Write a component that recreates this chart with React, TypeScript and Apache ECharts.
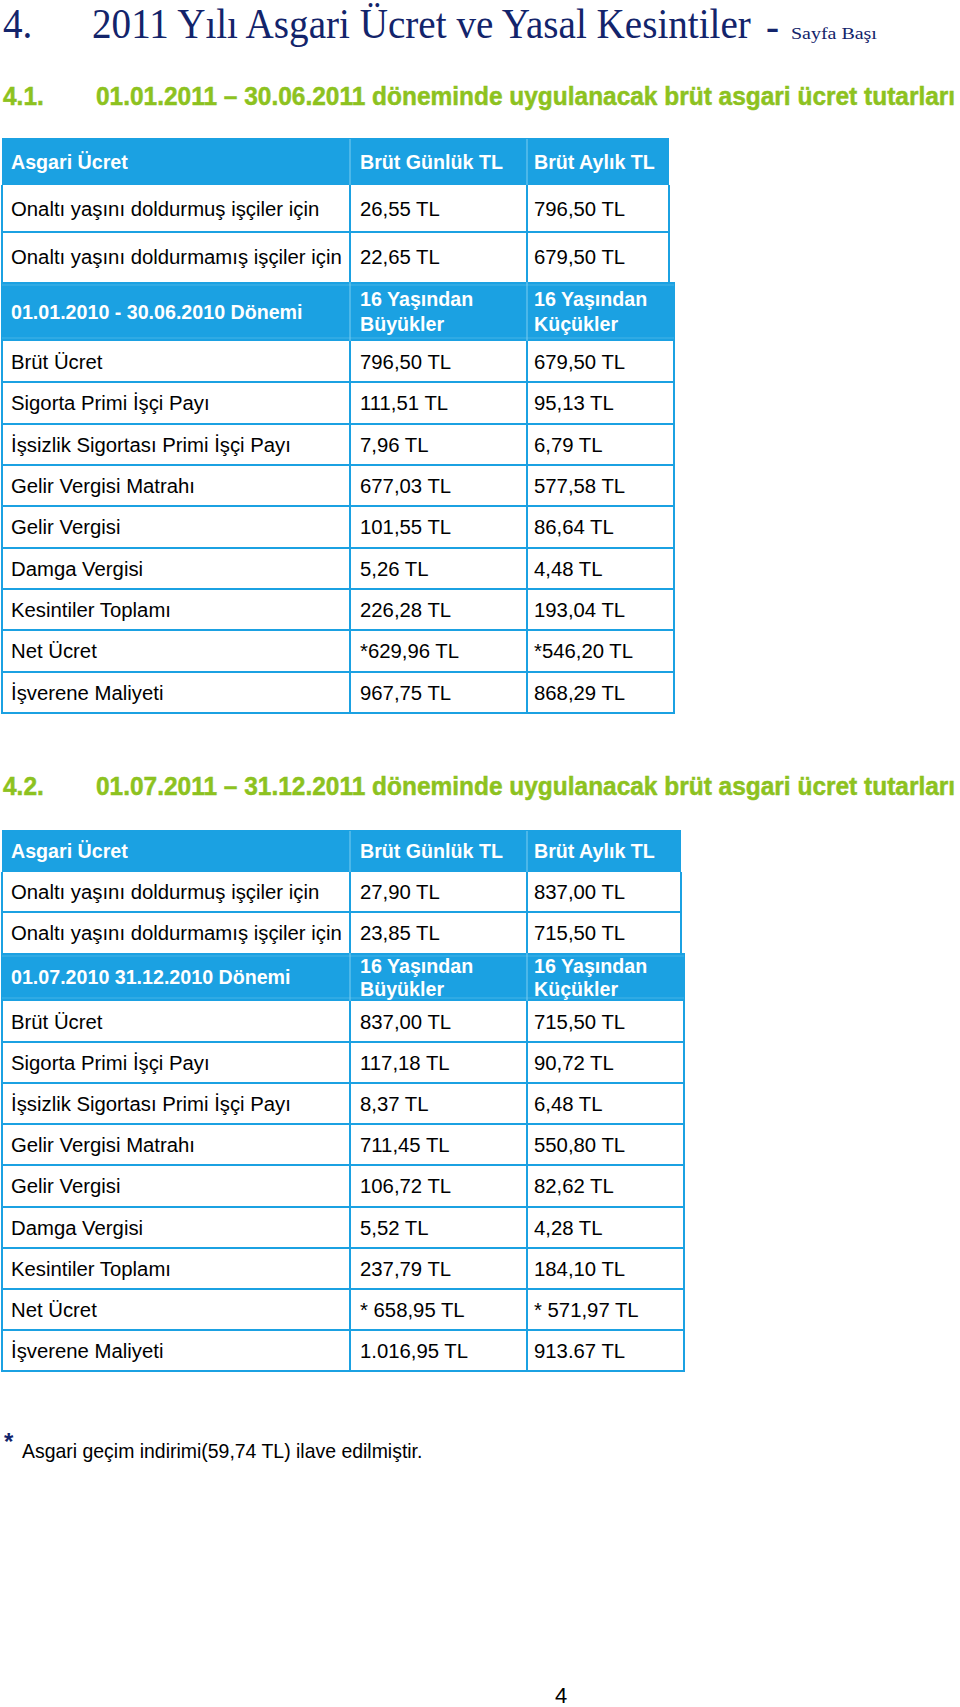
import React, { useEffect, useRef } from "react";
import * as echarts from "echarts";

// ---------- data ----------
const pageTitle = "2011 Yılı Asgari Ücret ve Yasal Kesintiler";
const pageTitleNo = "4.";
const pageTitleLink = "Sayfa Başı";

const sec1No = "4.1.";
const sec1Title = "01.01.2011 – 30.06.2011 döneminde uygulanacak brüt asgari ücret tutarları";
const sec2No = "4.2.";
const sec2Title = "01.07.2011 – 31.12.2011 döneminde uygulanacak brüt asgari ücret tutarları";

const wageHeads = ["Asgari Ücret", "Brüt Günlük TL", "Brüt Aylık TL"];
const wageRows = ["Onaltı yaşını doldurmuş işçiler için", "Onaltı yaşını doldurmamış işçiler için"];
const sec1Daily = ["26,55 TL", "22,65 TL"];
const sec1Monthly = ["796,50 TL", "679,50 TL"];
const sec2Daily = ["27,90 TL", "23,85 TL"];
const sec2Monthly = ["837,00 TL", "715,50 TL"];

const period1 = "01.01.2010 - 30.06.2010 Dönemi";
const period2 = "01.07.2010 31.12.2010 Dönemi";
const ageHeads = [["16 Yaşından", "Büyükler"], ["16 Yaşından", "Küçükler"]];

const itemLabels = [
  "Brüt Ücret",
  "Sigorta Primi İşçi Payı",
  "İşsizlik Sigortası Primi İşçi Payı",
  "Gelir Vergisi Matrahı",
  "Gelir Vergisi",
  "Damga Vergisi",
  "Kesintiler Toplamı",
  "Net Ücret",
  "İşverene Maliyeti",
];
const p1Adult = ["796,50 TL", "111,51 TL", "7,96 TL", "677,03 TL", "101,55 TL", "5,26 TL", "226,28 TL", "*629,96 TL", "967,75 TL"];
const p1Young = ["679,50 TL", "95,13 TL", "6,79 TL", "577,58 TL", "86,64 TL", "4,48 TL", "193,04 TL", "*546,20 TL", "868,29 TL"];
const p2Adult = ["837,00 TL", "117,18 TL", "8,37 TL", "711,45 TL", "106,72 TL", "5,52 TL", "237,79 TL", "* 658,95 TL", "1.016,95 TL"];
const p2Young = ["715,50 TL", "90,72 TL", "6,48 TL", "550,80 TL", "82,62 TL", "4,28 TL", "184,10 TL", "* 571,97 TL", "913.67 TL"];

const footStar = "*";
const footNote = "Asgari geçim indirimi(59,74 TL) ilave edilmiştir.";
const pageNo = "4";

// ---------- styles ----------
const BLUE = "#1ba1e2";
const LIGHT = "#7fcdf0";
const GREEN = "#8dc21f";
const NAVY = "#13246b";
const SANS = '"Liberation Sans", Arial, sans-serif';
const SERIF = '"Liberation Serif", "Times New Roman", serif';

function measure(text: string, font: string): number {
  const c = document.createElement("canvas");
  const ctx = c.getContext("2d")!;
  ctx.font = font;
  return ctx.measureText(text).width;
}

function txt(text: string, x: number, y: number, size: number, opts: any = {}) {
  const style: any = {
    text,
    fontSize: size,
    fontFamily: opts.family ?? SANS,
    fontWeight: opts.weight ?? "normal",
    fill: opts.fill ?? "#000",
    align: opts.align ?? "left",
    verticalAlign: "middle",
  };
  if (opts.stroke) {
    style.stroke = opts.stroke;
    style.lineWidth = opts.strokeWidth ?? 0.5;
  }
  return {
    type: "text",
    x,
    y,
    scaleX: opts.scaleX ?? 1,
    scaleY: opts.scaleY ?? 1,
    silent: true,
    style,
  };
}

function ln(x1: number, y1: number, x2: number, y2: number, stroke = BLUE, w = 2) {
  return { type: "line", silent: true, shape: { x1, y1, x2, y2 }, style: { stroke, lineWidth: w } };
}

function rect(x: number, y: number, w: number, h: number, fill: string) {
  return { type: "rect", silent: true, shape: { x, y, width: w, height: h }, style: { fill } };
}

type Sec = {
  top: number[];
  right1: number;
  pBot: number;
  rowBounds: number[];
  right2: number;
  daily: string[];
  monthly: string[];
  period: string;
  adult: string[];
  young: string[];
  lineOff: number;
};

function buildSection(s: Sec, bodySize: number, headSize: number) {
  const els: any[] = [];
  const L = 2;
  const C1 = 350;
  const C2 = 527;
  const [t0, t1, t2, t3] = s.top;
  const tx = [11, 360, 534];

  els.push(rect(L, t0, s.right1 - L, t1 - t0, BLUE));
  els.push(ln(C1, t0 + 1, C1, t1, LIGHT, 1));
  els.push(ln(C2, t0 + 1, C2, t1, LIGHT, 1));
  els.push(ln(L, t2, s.right1, t2));
  [L, C1, C2, s.right1].forEach((x) => els.push(ln(x, t1, x, t3)));

  els.push(rect(L - 1, t3, s.right2 - L + 2, s.pBot - t3, BLUE));
  els.push(ln(L, t3 + 3, s.right2, t3 + 3, "#45b3e6", 1));
  els.push(ln(L, s.pBot - 3, s.right2, s.pBot - 3, "#45b3e6", 1));
  els.push(ln(C1, t3, C1, s.pBot, LIGHT, 1));
  els.push(ln(C2, t3, C2, s.pBot, LIGHT, 1));

  const rb = s.rowBounds;
  rb.slice(1).forEach((y) => els.push(ln(L, y, s.right2, y)));
  [L, C1, C2, s.right2].forEach((x) => els.push(ln(x, s.pBot, x, rb[rb.length - 1] + 1)));

  const hc = (t0 + t1) / 2;
  wageHeads.forEach((h, i) => els.push(txt(h, tx[i], hc, headSize, { weight: "bold", fill: "#fff" })));
  const rowC = [(t1 + t2) / 2, (t2 + t3) / 2];
  wageRows.forEach((r, i) => {
    els.push(txt(r, tx[0], rowC[i], bodySize));
    els.push(txt(s.daily[i], tx[1], rowC[i], bodySize));
    els.push(txt(s.monthly[i], tx[2], rowC[i], bodySize));
  });
  const pc = (t3 + s.pBot) / 2;
  els.push(txt(s.period, tx[0], pc, headSize, { weight: "bold", fill: "#fff" }));
  ageHeads.forEach((h, i) => {
    els.push(txt(h[0], tx[i + 1], pc - s.lineOff, headSize, { weight: "bold", fill: "#fff" }));
    els.push(txt(h[1], tx[i + 1], pc + s.lineOff, headSize, { weight: "bold", fill: "#fff" }));
  });
  itemLabels.forEach((lab, i) => {
    const c = (rb[i] + rb[i + 1]) / 2;
    els.push(txt(lab, tx[0], c, bodySize));
    els.push(txt(s.adult[i], tx[1], c, bodySize));
    els.push(txt(s.young[i], tx[2], c, bodySize));
  });
  return els;
}

function rows(start: number, end: number, n: number): number[] {
  const out: number[] = [];
  for (let i = 0; i <= n; i++) out.push(Math.round(start + ((end - start) * i) / n));
  return out;
}

export default function App() {
  const ref = useRef<HTMLDivElement>(null);
  useEffect(() => {
    if (!ref.current) return;
    const chart = echarts.init(ref.current, undefined, { renderer: "svg" });

    const bodySize = (20 * 331) / measure(wageRows[1], `20px ${SANS}`);
    const headSize = (20 * 143) / measure(wageHeads[1], `bold 20px ${SANS}`);
    const titleScale = 664 / measure(pageTitle, `42px ${SERIF}`);
    const greenScale = 859 / measure(sec1Title, `bold 26px ${SANS}`);
    const linkScale = 86 / measure(pageTitleLink, `17px ${SERIF}`);
    const footSize = (20 * 401) / measure(footNote, `20px ${SANS}`);

    const els: any[] = [];
    els.push(txt(pageTitleNo, 3, 24, 42, { family: SERIF, fill: NAVY, scaleX: titleScale }));
    els.push(txt(pageTitle, 92, 24, 42, { family: SERIF, fill: NAVY, scaleX: titleScale }));
    els.push(txt("-", 766, 26, 42, { family: SERIF, fill: NAVY, scaleX: titleScale }));
    els.push(txt(pageTitleLink, 791, 33, 17, { family: SERIF, fill: NAVY, scaleX: linkScale }));

    const gOpts = { weight: "bold", fill: GREEN, scaleX: greenScale, stroke: GREEN, strokeWidth: 0.5 };
    els.push(txt(sec1No, 3, 96, 26, gOpts));
    els.push(txt(sec1Title, 96, 96, 26, gOpts));
    els.push(txt(sec2No, 3, 786, 26, gOpts));
    els.push(txt(sec2Title, 96, 786, 26, gOpts));

    els.push(
      ...buildSection(
        {
          top: [138, 185, 232, 282],
          right1: 669,
          pBot: 341,
          rowBounds: rows(341, 713, 9),
          right2: 674,
          daily: sec1Daily,
          monthly: sec1Monthly,
          period: period1,
          adult: p1Adult,
          young: p1Young,
          lineOff: 12.5,
        },
        bodySize,
        headSize
      )
    );
    els.push(
      ...buildSection(
        {
          top: [830, 872, 912, 953],
          right1: 681,
          pBot: 1001,
          rowBounds: rows(1001, 1371, 9),
          right2: 684,
          daily: sec2Daily,
          monthly: sec2Monthly,
          period: period2,
          adult: p2Adult,
          young: p2Young,
          lineOff: 11.5,
        },
        bodySize,
        headSize
      )
    );

    els.push(txt(footStar, 4, 1441, 24, { weight: "bold", fill: NAVY }));
    els.push(txt(footNote, 22, 1451, footSize));
    els.push(txt(pageNo, 561, 1695, 22, { align: "center" }));

    chart.setOption({
      animation: false,
      backgroundColor: "#fff",
      graphic: { elements: els },
    });
    return () => chart.dispose();
  }, []);

  return (
    <div
      ref={ref}
      style={{ position: "absolute", left: 0, top: 0, width: 960, height: 1707, background: "#fff" }}
    />
  );
}
